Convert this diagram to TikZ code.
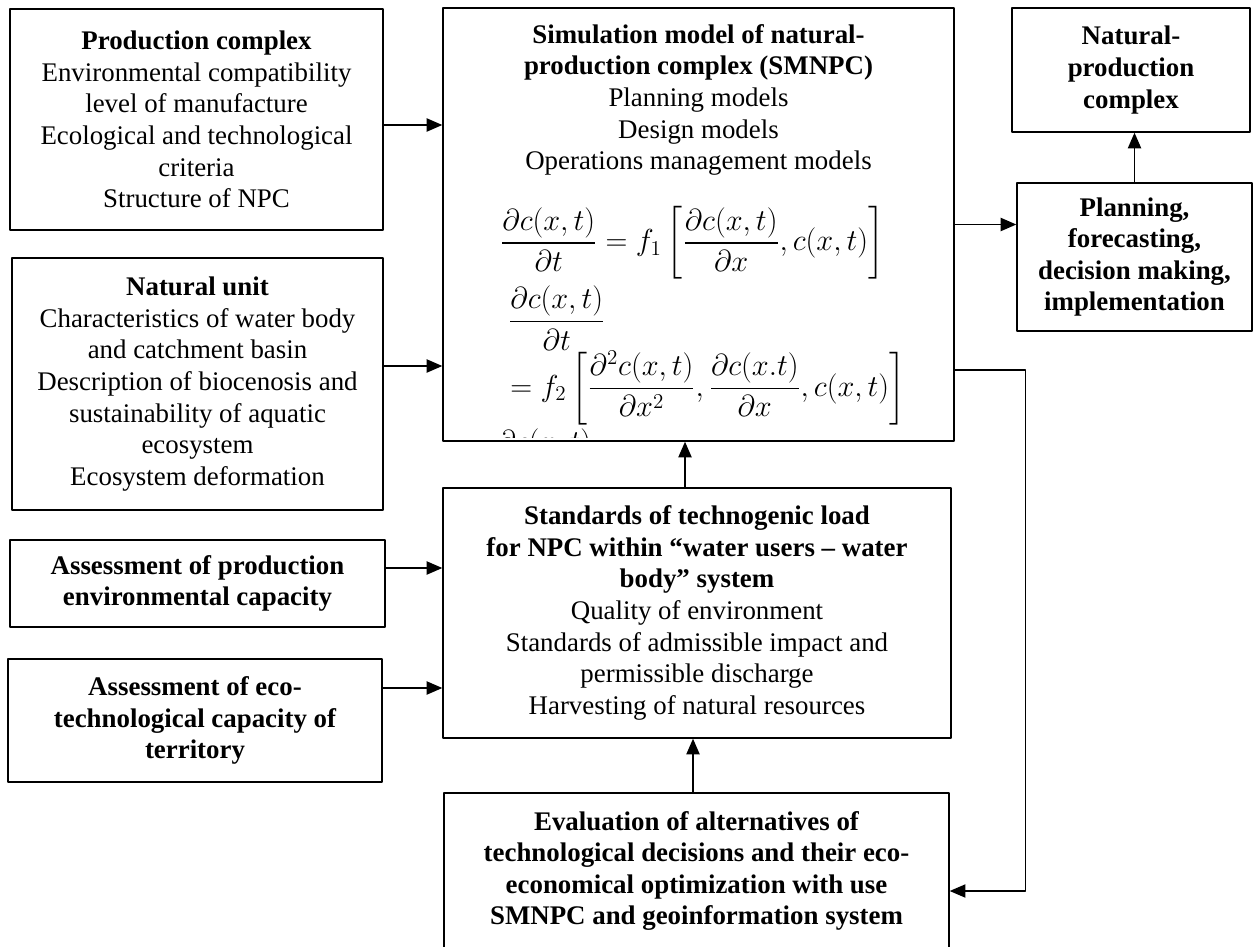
\documentclass[tikz,border=0pt]{standalone}
\usepackage{fontspec}
\setmainfont{Liberation Serif}
\usepackage{amsmath}
\usetikzlibrary{positioning,calc,arrows.meta}

\newcommand\pxl{0.02cm}

\begin{document}
\begin{tikzpicture}[x=\pxl,y=-\pxl,line join=round,
        blk/.style={draw,line width=0.75pt,align=center,inner sep=0pt,
          font=\fontsize{15.3}{18}\selectfont},
        bld/.style={font=\fontsize{15.3}{18}\selectfont\bfseries},
        dim/.style 2 args={minimum width=#1*\pxl,minimum height=#2*\pxl},
        txt/.style={align=center,inner sep=0pt,font=\fontsize{15.3}{18}\selectfont},
        eqn/.style={inner sep=0pt,anchor=west,font=\fontsize{17.4}{20}\selectfont},
        arr/.style={line width=1.1pt,-{Triangle[length=9pt,width=7.5pt]}}]
        %% Page frame.
        \clip (0,0) rectangle (1253,946);

        % Left column.
        \node[blk,dim={373}{221}] (prod) at (196.5,119.5) {\textbf{Production complex}\\
          Environmental compatibility\\level of manufacture\\
          Ecological and technological\\criteria\\Structure of NPC};
        \node[blk,dim={371}{252}] (nat) at (197.5,384) {\textbf{Natural unit}\\
          Characteristics of water body\\and catchment basin\\
          Description of biocenosis and\\sustainability of aquatic\\ecosystem\\
          Ecosystem deformation};
        \node[blk,bld,dim={375}{87}] (acap) at (197.5,583.5)
          {Assessment of production\\environmental capacity};
        \node[blk,bld,dim={374}{123}] (ecap) at (195,720.5)
          {Assessment of eco-\\technological capacity of\\territory};

        % Simulation model with its equations.
        \node[blk,dim={511}{433}] (sim) at (698.5,224.5) {};
        \node[txt,anchor=north] (simtxt) at (698.5,24) {\textbf{Simulation model of natural-}\\
          \textbf{production complex (SMNPC)}\\Planning models\\Design models\\
          Operations management models};
        \node[eqn] (eqa) at (500,243) {$\displaystyle\frac{\partial c(x,t)}{\partial t}
          =f_1\left[\frac{\partial c(x,t)}{\partial x},c(x,t)\right]$};
        \node[eqn] (eqb) at (508,318) {$\displaystyle\frac{\partial c(x,t)}{\partial t}$};
        \node[eqn] (eqc) at (510,388) {$\displaystyle=f_2\left[\frac{\partial^2 c(x,t)}{\partial x^2},
          \frac{\partial c(x.t)}{\partial x},c(x,t)\right]$};
        \begin{scope}
          \clip (444,420) rectangle (953,437);
          \node[eqn] (eqd) at (496,461) {$\displaystyle\frac{\partial c(x,t)}{\partial t}$};
        \end{scope}

        % Standards and evaluation.
        \node[blk,dim={508}{250}] (std) at (697,613) {\textbf{Standards of technogenic load}\\
          \textbf{for NPC within “water users – water}\\\textbf{body” system}\\
          Quality of environment\\Standards of admissible impact and\\
          permissible discharge\\Harvesting of natural resources};
        \node[blk,bld,dim={505}{156}] (eval) at (696.5,871) {Evaluation of alternatives of\\
          technological decisions and their eco-\\economical optimization with use\\
          SMNPC and geoinformation system};

        % Right column.
        \node[blk,bld,dim={238}{124}] (npc) at (1131,70) {Natural-\\production\\complex};
        \node[blk,bld,dim={235}{148}] (plan) at (1134.5,257)
          {Planning,\\forecasting,\\decision making,\\implementation};

        % Inputs.
        \draw[arr] ($(prod.east)+(0,5.5)$) coordinate (p1) -- (p1 -| sim.west);
        \draw[arr] ($(nat.east)+(0,-18)$) coordinate (n1) -- (n1 -| sim.west);
        \draw[arr] ($(acap.east)+(0,-15.5)$) coordinate (a1) -- (a1 -| std.west);
        \draw[arr] ($(ecap.east)+(0,-32.5)$) coordinate (e1) -- (e1 -| std.west);
        \draw[arr] ($(std.north)+(-12,0)$) coordinate (s1) -- (s1 |- sim.south);
        \draw[arr] ($(eval.north)+(-3.5,0)$) coordinate (v1) -- (v1 |- std.south);

        % Outputs and feedback.
        \draw[arr] (sim.east) -- (sim.east -| plan.west);
        \draw[arr] (plan.north) -- (plan.north |- npc.south);
        \draw[arr,line width=0.9pt] ($(sim.east)+(0,145.5)$) -- ++(71,0) |- ($(eval.east)+(0,20)$);
\end{tikzpicture}
\end{document}
